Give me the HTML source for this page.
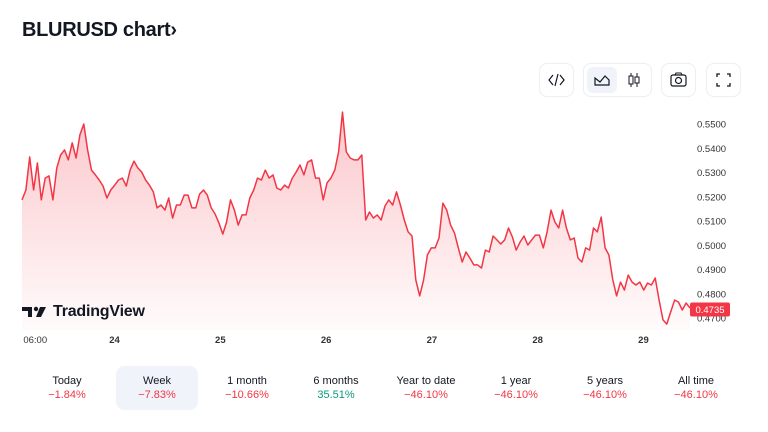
<!DOCTYPE html>
<html><head><meta charset="utf-8"><style>
body{margin:0;width:768px;height:432px;background:#fff;font-family:"Liberation Sans",sans-serif;position:relative;overflow:hidden;color:#131722}
.abs{position:absolute}
.btn{position:absolute;top:63px;height:34px;border:1px solid #eceef2;border-radius:8px;background:#fff;box-sizing:border-box}
.per{position:absolute;top:366px;width:82px;height:44px;text-align:center;font-size:11px;border-radius:8px}
.per .n{margin-top:9px;color:#131722}
.per .v{margin-top:2px;color:#f23645}
</style></head><body>
<div class="abs" style="left:22px;top:19px;font-size:20px;font-weight:bold;letter-spacing:-0.3px">BLURUSD chart›</div>
<div class="btn" style="left:539px;width:35px"><svg width="33" height="32"><path d="M13 11l-4 5 4 5M20 11l4 5-4 5M18 10l-3 12" stroke="#131722" stroke-width="1.2" fill="none"/></svg></div>
<div class="btn" style="left:583px;width:69px">
 <div class="abs" style="left:3px;top:3px;width:30px;height:26px;background:#f0f3fa;border-radius:6px"><svg width="30" height="26"><path d="M8 18V11l5 4 5-6 4 4v5z" stroke="#131722" stroke-width="1.2" fill="none"/></svg></div>
 <div class="abs" style="left:36px;top:3px;width:30px;height:26px"><svg width="30" height="26"><path d="M11 6v14M17 6v14" stroke="#131722"/><rect x="9" y="9" width="4" height="8" fill="#fff" stroke="#131722"/><rect x="15" y="10" width="4" height="6" fill="#fff" stroke="#131722"/></svg></div>
</div>
<div class="btn" style="left:661px;width:35px"><svg width="33" height="32"><rect x="9" y="11" width="15" height="11" rx="2" fill="none" stroke="#131722" stroke-width="1.2"/><circle cx="16.5" cy="16.5" r="3" fill="none" stroke="#131722" stroke-width="1.2"/><path d="M13 11l1-2h5l1 2" stroke="#131722" fill="none"/></svg></div>
<div class="btn" style="left:706px;width:35px"><svg width="33" height="32"><path d="M10 13v-3h3M20 10h3v3M23 19v3h-3M13 22h-3v-3" stroke="#131722" stroke-width="1.3" fill="none"/></svg></div>

<svg id="chart" class="abs" style="left:0;top:0" width="768" height="350">
<defs><linearGradient id="g" x1="0" y1="0" x2="0" y2="1"><stop offset="0" stop-color="#f23645" stop-opacity="0.28"/><stop offset="1" stop-color="#f23645" stop-opacity="0.02"/></linearGradient></defs>
</svg>
<div class="abs" style="left:22px;top:303px;font-size:16px;font-weight:bold;letter-spacing:-0.2px;display:flex;align-items:center"><svg width="26" height="14" style="margin-right:5px"><path d="M0 2h10v10H6V6H0z" fill="#131722"/><circle cx="14" cy="4" r="2.2" fill="#131722"/><path d="M18 2h6l-5 10h-5z" fill="#131722"/></svg>TradingView</div>

<div class="per" style="left:26px"><div class="n">Today</div><div class="v">−1.84%</div></div>
<div class="per" style="left:116px;background:#f0f3fa"><div class="n">Week</div><div class="v">−7.83%</div></div>
<div class="per" style="left:206px"><div class="n">1 month</div><div class="v">−10.66%</div></div>
<div class="per" style="left:295px"><div class="n">6 months</div><div class="v" style="color:#089981">35.51%</div></div>
<div class="per" style="left:385px"><div class="n">Year to date</div><div class="v">−46.10%</div></div>
<div class="per" style="left:475px"><div class="n">1 year</div><div class="v">−46.10%</div></div>
<div class="per" style="left:564px"><div class="n">5 years</div><div class="v">−46.10%</div></div>
<div class="per" style="left:655px"><div class="n">All time</div><div class="v">−46.10%</div></div>

<script>
const prices=[0.5187,0.5228,0.5364,0.5228,0.5339,0.5187,0.5277,0.5286,0.5187,0.5319,0.5372,0.5393,0.5352,0.5422,0.5360,0.5455,0.5500,0.5393,0.5310,0.5290,0.5269,0.5244,0.5195,0.5228,0.5248,0.5269,0.5277,0.5244,0.5310,0.5347,0.5319,0.5302,0.5269,0.5248,0.5220,0.5154,0.5166,0.5145,0.5195,0.5112,0.5166,0.5166,0.5207,0.5207,0.5154,0.5154,0.5211,0.5228,0.5207,0.5154,0.5129,0.5092,0.5046,0.5096,0.5187,0.5145,0.5083,0.5125,0.5125,0.5195,0.5228,0.5277,0.5269,0.5310,0.5277,0.5290,0.5236,0.5228,0.5248,0.5236,0.5277,0.5302,0.5331,0.5290,0.5343,0.5352,0.5277,0.5277,0.5187,0.5257,0.5277,0.5310,0.5385,0.5549,0.5385,0.5360,0.5352,0.5352,0.5372,0.5104,0.5137,0.5112,0.5125,0.5104,0.5162,0.5187,0.5166,0.5220,0.5166,0.5104,0.5055,0.5038,0.4857,0.4791,0.4857,0.4960,0.4989,0.4989,0.5030,0.5174,0.5145,0.5083,0.5050,0.4989,0.4931,0.4972,0.4947,0.4919,0.4919,0.4906,0.4980,0.4972,0.5038,0.5022,0.5005,0.5022,0.5071,0.5034,0.4980,0.5013,0.5038,0.5001,0.5022,0.5042,0.5042,0.4989,0.5055,0.5145,0.5096,0.5071,0.5145,0.5071,0.5022,0.5030,0.4947,0.4931,0.4989,0.4980,0.5071,0.5055,0.5116,0.4989,0.4960,0.4857,0.4791,0.4848,0.4815,0.4877,0.4848,0.4836,0.4848,0.4815,0.4844,0.4836,0.4865,0.4774,0.4692,0.4675,0.4725,0.4774,0.4766,0.4733,0.4762,0.4741];
const startDay=23.125, endDay=29.44;
const yTicks=[0.55,0.54,0.53,0.52,0.51,0.50,0.49,0.48,0.47];
const xTickDays=[23.25,24,25,26,27,28,29];
const xTickLabels=["06:00","24","25","26","27","28","29"];
const lastPrice=0.4735;
const NS="http://www.w3.org/2000/svg";
const svg=document.getElementById('chart');
const X0=22,X1=690;
const yS=v=>124+(0.55-v)*2425;
const xD=d=>X0+(d-startDay)/(endDay-startDay)*(X1-X0);
const xI=i=>xD(startDay+i*(endDay-startDay)/(prices.length-1));
let pts=prices.map((v,i)=>xI(i).toFixed(1)+','+yS(v).toFixed(1));
const area=document.createElementNS(NS,'path');
area.setAttribute('d','M'+xI(0)+',330L'+pts.join('L')+'L'+xI(prices.length-1)+',330Z');
area.setAttribute('fill','url(#g)');


svg.appendChild(area);
const line=document.createElementNS(NS,'path');
line.setAttribute('d','M'+pts.join('L'));
line.setAttribute('fill','none');line.setAttribute('stroke','#f23645');line.setAttribute('stroke-width','1.5');line.setAttribute('stroke-linejoin','round');


svg.appendChild(line);
yTicks.forEach(v=>{const t=document.createElementNS(NS,'text');
t.setAttribute('x',697);t.setAttribute('y',yS(v)+3.5);t.setAttribute('font-size','9.5');t.setAttribute('fill','#333');
t.textContent=v.toFixed(4);


svg.appendChild(t);});
xTickDays.forEach((d,i)=>{const t=document.createElementNS(NS,'text');
t.setAttribute('x',xD(d));t.setAttribute('y',343);t.setAttribute('font-size','9.5');t.setAttribute('text-anchor','middle');
t.setAttribute('fill','#333');if(i>0)t.setAttribute('font-weight','bold');
t.textContent=xTickLabels[i];


svg.appendChild(t);});
const g=document.createElementNS(NS,'g');


const r=document.createElementNS(NS,'rect');
r.setAttribute('x',690);r.setAttribute('y',yS(lastPrice)-7);r.setAttribute('width',40);r.setAttribute('height',14);r.setAttribute('rx',2);r.setAttribute('fill','#f23645');
g.appendChild(r);
const tt=document.createElementNS(NS,'text');
tt.setAttribute('x',710);tt.setAttribute('y',yS(lastPrice)+3.5);tt.setAttribute('font-size','9.5');tt.setAttribute('fill','#fff');tt.setAttribute('text-anchor','middle');
tt.textContent=lastPrice.toFixed(4);g.appendChild(tt);
svg.appendChild(g);
</script>
</body></html>
